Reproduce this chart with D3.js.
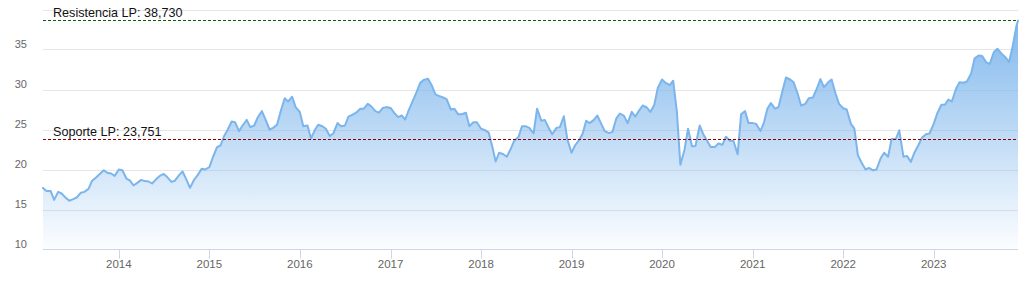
<!DOCTYPE html>
<html><head><meta charset="utf-8">
<script src="https://cdn.jsdelivr.net/npm/d3@7"></script>
<style>html,body{margin:0;padding:0;background:#fff;overflow:hidden;} svg{display:block;font-family:"Liberation Sans",Arial,Helvetica,sans-serif;}</style>
</head><body><svg id="c" width="1025" height="283"></svg>
<script>
const dates = [
"2013-03-01","2013-03-15","2013-04-01","2013-04-15","2013-05-01","2013-05-15","2013-06-01","2013-06-15","2013-07-01","2013-07-15","2013-08-01","2013-08-15","2013-09-01","2013-09-15","2013-10-01","2013-10-15","2013-11-01","2013-11-15","2013-12-01","2013-12-15",
"2014-01-01","2014-01-15","2014-02-01","2014-02-15","2014-03-01","2014-03-15","2014-04-01","2014-04-15","2014-05-01","2014-05-15","2014-06-01","2014-06-15","2014-07-01","2014-07-15","2014-08-01","2014-08-15","2014-09-01","2014-09-15","2014-10-01","2014-10-15","2014-11-01","2014-11-15","2014-12-01","2014-12-15",
"2015-01-01","2015-01-15","2015-02-01","2015-02-15","2015-03-01","2015-03-15","2015-04-01","2015-04-15","2015-05-01","2015-05-15","2015-06-01","2015-06-15","2015-07-01","2015-07-15","2015-08-01","2015-08-15","2015-09-01","2015-09-15","2015-10-01","2015-10-15","2015-11-01","2015-11-15","2015-12-01","2015-12-15",
"2016-01-01","2016-01-15","2016-02-01","2016-02-15","2016-03-01","2016-03-15","2016-04-01","2016-04-15","2016-05-01","2016-05-15","2016-06-01","2016-06-15","2016-07-01","2016-07-15","2016-08-01","2016-08-15","2016-09-01","2016-09-15","2016-10-01","2016-10-15","2016-11-01","2016-11-15","2016-12-01","2016-12-15",
"2017-01-01","2017-01-15","2017-02-01","2017-02-15","2017-03-01","2017-03-15","2017-04-01","2017-04-15","2017-05-01","2017-05-15","2017-06-01","2017-06-15","2017-07-01","2017-07-15","2017-08-01","2017-08-15","2017-09-01","2017-09-15","2017-10-01","2017-10-15","2017-11-01","2017-11-15","2017-12-01","2017-12-15",
"2018-01-01","2018-01-15","2018-02-01","2018-02-15","2018-03-01","2018-03-15","2018-04-01","2018-04-15","2018-05-01","2018-05-15","2018-06-01","2018-06-15","2018-07-01","2018-07-15","2018-08-01","2018-08-15","2018-09-01","2018-09-15","2018-10-01","2018-10-15","2018-11-01","2018-11-15","2018-12-01","2018-12-15",
"2019-01-01","2019-01-15","2019-02-01","2019-02-15","2019-03-01","2019-03-15","2019-04-01","2019-04-15","2019-05-01","2019-05-15","2019-06-01","2019-06-15","2019-07-01","2019-07-15","2019-08-01","2019-08-15","2019-09-01","2019-09-15","2019-10-01","2019-10-15","2019-11-01","2019-11-15","2019-12-01","2019-12-15",
"2020-01-01","2020-01-15","2020-02-01","2020-02-15","2020-03-01","2020-03-15","2020-04-01","2020-04-15","2020-05-01","2020-05-15","2020-06-01","2020-06-15","2020-07-01","2020-07-15","2020-08-01","2020-08-15","2020-09-01","2020-09-15","2020-10-01","2020-10-15","2020-11-01","2020-11-15","2020-12-01","2020-12-15",
"2021-01-01","2021-01-15","2021-02-01","2021-02-15","2021-03-01","2021-03-15","2021-04-01","2021-04-15","2021-05-01","2021-05-15","2021-06-01","2021-06-15","2021-07-01","2021-07-15","2021-08-01","2021-08-15","2021-09-01","2021-09-15","2021-10-01","2021-10-15","2021-11-01","2021-11-15","2021-12-01","2021-12-15",
"2022-01-01","2022-01-15","2022-02-01","2022-02-15","2022-03-01","2022-03-15","2022-04-01","2022-04-15","2022-05-01","2022-05-15","2022-06-01","2022-06-15","2022-07-01","2022-07-15","2022-08-01","2022-08-15","2022-09-01","2022-09-15","2022-10-01","2022-10-15","2022-11-01","2022-11-15","2022-12-01","2022-12-15",
"2023-01-01","2023-01-15","2023-02-01","2023-02-15","2023-03-01","2023-03-15","2023-04-01","2023-04-15","2023-05-01","2023-05-15","2023-06-01","2023-06-15","2023-07-01","2023-07-15","2023-08-01","2023-08-15","2023-09-01","2023-09-15","2023-10-01","2023-10-15","2023-11-01","2023-11-15","2023-12-01","2023-12-07"
];
const prices = [
17.7,17.3,17.3,16.2,17.2,17.0,16.45,16.1,16.3,16.5,17.1,17.2,17.6,18.6,19.0,19.4,19.9,19.6,19.5,19.2,
20.0,19.9,18.85,18.6,18.0,18.3,18.7,18.55,18.5,18.25,18.8,19.2,19.45,19.05,18.45,18.6,19.3,19.75,18.7,17.7,18.75,19.3,20.1,20.0,
20.3,21.5,22.8,23.0,24.15,24.9,26.0,25.9,24.8,25.5,26.2,25.3,25.5,26.5,27.3,26.3,25.0,25.2,25.6,27.2,28.9,28.5,29.1,27.8,
27.2,25.4,25.5,23.9,24.9,25.6,25.4,25.1,24.2,24.5,25.8,25.4,25.5,26.6,26.85,27.1,27.6,27.6,28.2,27.9,27.3,27.1,27.7,27.8,
27.7,27.1,26.55,26.75,26.25,27.4,28.6,29.6,30.85,31.2,31.35,30.6,29.4,29.2,29.0,28.8,27.5,27.6,26.9,26.9,27.1,25.4,25.9,25.9,
25.1,24.95,24.6,22.9,21.0,22.1,21.9,21.6,22.6,23.6,24.05,25.4,25.4,25.2,24.5,27.6,26.1,26.2,25.2,24.4,25.2,25.3,26.65,23.8,
22.1,23.0,23.7,24.5,26.1,25.8,26.2,26.75,25.7,24.8,24.55,24.7,26.4,27.0,26.7,25.8,27.2,26.6,27.4,28.0,27.75,27.2,28.1,30.2,
31.25,30.85,30.55,31.1,27.2,20.6,22.5,25.1,22.9,22.95,25.5,24.45,23.6,22.8,22.8,23.25,23.1,24.1,23.6,23.6,21.9,26.9,27.3,25.8,
25.8,25.7,24.8,25.85,27.6,28.3,27.6,27.8,29.85,31.5,31.25,30.9,29.5,28.0,28.2,28.9,29.0,30.0,31.3,30.3,30.9,31.25,29.5,28.2,
27.65,27.5,25.7,25.1,21.8,20.9,20.0,20.2,19.9,20.0,21.4,22.1,21.6,23.8,23.8,24.9,21.6,21.7,20.95,22.1,23.1,24.0,24.4,24.5,
25.7,27.0,28.1,28.1,28.75,28.5,30.1,30.9,30.85,31.0,32.0,33.9,34.25,34.2,33.4,33.2,34.7,35.1,34.5,34.1,33.45,35.3,38.0,38.6
];
const yTickLabels = [10,15,20,25,30,35];
const yGridValues = [10,15,20,25,30,35,40];
const levelValues = [38.730, 23.751];
const levelLabels = ["Resistencia LP: 38,730","Soporte LP: 23,751"];
const levelColors = ["#0b5d0b","#8b0000"];

(function(){
const parse = d3.timeParse("%Y-%m-%d");
const data = dates.map((d,i)=>({date:parse(d), value:prices[i]}));

const pLeft=43, pRight=1018, pTop=9.5, pBottom=249.5;
const svg = d3.select("#c");
const x = d3.scaleTime().domain(d3.extent(data,d=>d.date)).range([pLeft,pRight]);
const y = d3.scaleLinear().domain([10,40]).range([pBottom,pTop]);

const defs = svg.append("defs");
const g = defs.append("linearGradient").attr("id","areaGrad").attr("x1",0).attr("y1",0).attr("x2",0).attr("y2",1);
g.append("stop").attr("offset","0%").attr("stop-color","#7cb5ec").attr("stop-opacity",0.95);
g.append("stop").attr("offset","100%").attr("stop-color","#7cb5ec").attr("stop-opacity",0.02);

svg.append("g").selectAll("line").data(yGridValues.filter(v=>v!==10)).join("line")
  .attr("x1",pLeft).attr("x2",pRight)
  .attr("y1",d=>Math.round(y(d))+0.5).attr("y2",d=>Math.round(y(d))+0.5)
  .attr("stroke","#e6e6e6").attr("stroke-width",1);

svg.append("g").selectAll("text").data(yTickLabels).join("text")
  .attr("x",27).attr("y",d=>y(d)-2)
  .attr("text-anchor","end").attr("font-size","11px").attr("fill","#666")
  .text(d=>d);

const area = d3.area().x(d=>x(d.date)).y0(pBottom).y1(d=>y(d.value));
const line = d3.line().x(d=>x(d.date)).y(d=>y(d.value));
svg.append("path").datum(data).attr("d",area).attr("fill","url(#areaGrad)");
svg.append("path").datum(data).attr("d",line).attr("fill","none")
  .attr("stroke","#7cb5ec").attr("stroke-width",2).attr("stroke-linejoin","round").attr("stroke-linecap","round");

svg.append("line").attr("x1",pLeft).attr("x2",pRight).attr("y1",pBottom).attr("y2",pBottom)
  .attr("stroke","#ccd6eb").attr("stroke-width",1);
const years = x.ticks(d3.timeYear.every(1));
const xg = svg.append("g");
xg.selectAll("line").data(years).join("line")
  .attr("x1",d=>Math.round(x(d))+0.5).attr("x2",d=>Math.round(x(d))+0.5)
  .attr("y1",pBottom).attr("y2",pBottom+9)
  .attr("stroke","#ccd6eb").attr("stroke-width",1);
xg.selectAll("text").data(years).join("text")
  .attr("x",d=>x(d)).attr("y",268)
  .attr("text-anchor","middle").attr("font-size","11.5px").attr("fill","#666")
  .text(d3.timeFormat("%Y"));

const lv = svg.append("g");
lv.selectAll("line").data(levelValues).join("line")
  .attr("x1",pLeft).attr("x2",pRight)
  .attr("y1",d=>Math.round(y(d))+0.5).attr("y2",d=>Math.round(y(d))+0.5)
  .attr("stroke",(d,i)=>levelColors[i]).attr("stroke-width",1).attr("stroke-dasharray","3,2");
lv.selectAll("text").data(levelValues).join("text")
  .attr("x",53).attr("y",d=>Math.round(y(d))-3.5)
  .attr("font-size","12.6px").attr("fill","#111")
  .text((d,i)=>levelLabels[i]);
})();
</script></body></html>
